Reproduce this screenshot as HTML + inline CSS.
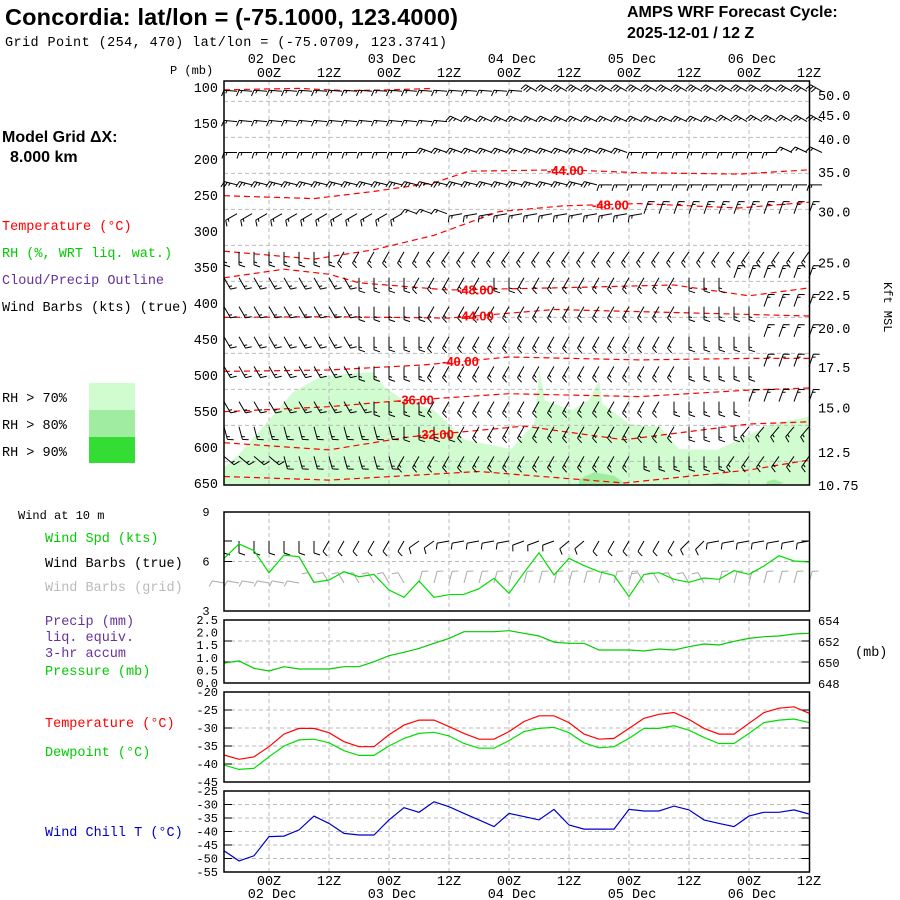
<!DOCTYPE html>
<html><head><meta charset="utf-8"><style>
html,body{margin:0;padding:0;background:#fff;}
svg{display:block;}
.m{font-family:"Liberation Mono",monospace;font-size:13.5px;}
.s{font-family:"Liberation Mono",monospace;font-size:12px;}
.b{font-family:"Liberation Sans",sans-serif;font-weight:bold;}
</style></head><body>
<svg id="chart" width="900" height="900" viewBox="0 0 900 900" xmlns="http://www.w3.org/2000/svg">
<g>
<text x="5" y="25" class="b" font-size="23.5" textLength="453">Concordia:  lat/lon = (-75.1000, 123.4000)</text>
<text x="5" y="46" class="m" font-size="14" textLength="442">Grid Point (254, 470) lat/lon = (-75.0709, 123.3741)</text>
<text x="627" y="17" class="b" font-size="16">AMPS WRF Forecast Cycle:</text>
<text x="627" y="38" class="b" font-size="16">2025-12-01 / 12  Z</text>
<text x="2" y="142" class="b" font-size="16">Model Grid ΔX:</text>
<text x="10" y="162" class="b" font-size="16">8.000 km</text>
</g>
<g class="m">
<text x="2" y="230" fill="#ff0000">Temperature (°C)</text>
<text x="2" y="257" fill="#00cc00">RH (%, WRT liq. wat.)</text>
<text x="2" y="284" fill="#663399">Cloud/Precip Outline</text>
<text x="2" y="311" fill="#000">Wind Barbs (kts) (true)</text>
<text x="2" y="402">RH &gt; 70%</text>
<text x="2" y="429">RH &gt; 80%</text>
<text x="2" y="456">RH &gt; 90%</text>
<rect x="89" y="383" width="46" height="27" fill="#d0fcd0"/>
<rect x="89" y="410" width="46" height="27" fill="#a0eca0"/>
<rect x="89" y="437" width="46" height="26" fill="#33dd33"/>
</g>
<g class="m">
<text x="18" y="519" class="s" font-size="11">Wind at 10 m</text>
<text x="45" y="542" fill="#00cc00">Wind Spd (kts)</text>
<text x="45" y="567" fill="#000">Wind Barbs (true)</text>
<text x="45" y="591" fill="#bbb">Wind Barbs (grid)</text>
<text x="45" y="625" fill="#663399">Precip (mm)</text>
<text x="45" y="641" fill="#663399">liq. equiv.</text>
<text x="45" y="657" fill="#663399">3-hr accum</text>
<text x="45" y="675" fill="#00cc00">Pressure (mb)</text>
<text x="45" y="727" fill="#ff0000">Temperature (°C)</text>
<text x="45" y="756" fill="#00cc00">Dewpoint (°C)</text>
<text x="45" y="836" fill="#0000cc">Wind Chill T (°C)</text>
<text x="855" y="656">(mb)</text>
<text x="884" y="282" transform="rotate(90 884 282)" class="s">Kft MSL</text>
<text x="170" y="74" class="s">P (mb)</text>
</g>
<g id="layer"></g>
</svg>
<script>
// ---------- data ----------
const nPts = 40; // 3-hourly, starting 01 Dec 15Z
const timeLabelsHour = ["00Z","12Z","00Z","12Z","00Z","12Z","00Z","12Z","00Z","12Z"];
const timeLabelHours = [9,21,33,45,57,69,81,93,105,117];
const dateLabels = ["02 Dec","03 Dec","04 Dec","05 Dec","06 Dec"];
const dateHours = [9,33,57,81,105];
const pTicks = [100,150,200,250,300,350,400,450,500,550,600,650];
const kftLabels = ["50.0","45.0","40.0","35.0","30.0","25.0","22.5","20.0","17.5","15.0","12.5","10.75"];
const kftPress = [111,139,172,218,273,344,389,435,489,545,607,653];

const windSpd = [6.19,7.06,6.66,5.32,6.39,6.29,4.74,4.88,5.38,5.08,5.22,4.27,3.83,4.82,3.83,3.99,4.01,4.35,4.98,4.07,5.32,6.53,5.18,6.19,5.75,5.38,5.16,3.87,5.22,5.32,4.92,4.74,5.0,4.92,5.44,5.22,5.73,6.35,6.03,5.97];
const sfcDirTrue = [180,180,180,180,180,180,180,210,210,210,210,210,210,235,235,260,260,260,260,260,250,250,250,230,230,210,210,210,210,210,210,225,225,260,260,260,260,260,260,260];
const sfcDirGrid = [280,280,280,280,280,280,330,330,330,330,330,330,330,15,15,15,15,15,15,15,15,15,15,15,15,15,15,15,330,330,330,330,330,15,15,15,15,15,15,15];
const sfcPress = [649.90,650.10,649.40,649.14,649.55,649.33,649.33,649.33,649.55,649.55,650.03,650.60,650.92,651.30,651.78,652.25,652.89,652.89,652.89,652.98,652.73,652.48,651.90,651.78,651.78,651.14,651.14,651.14,651.05,651.24,651.14,651.46,651.71,651.62,651.97,652.25,652.41,652.48,652.67,652.73];
const tempC = [-37.5,-38.7,-38.0,-35.2,-31.7,-30.1,-30.1,-31.3,-33.8,-35.2,-35.2,-31.9,-29.2,-27.8,-27.8,-29.6,-31.5,-33.1,-33.1,-31.0,-28.2,-26.6,-26.6,-28.5,-31.7,-33.1,-32.9,-30.1,-27.3,-26.2,-25.7,-27.6,-30.1,-31.7,-31.7,-28.7,-25.7,-24.5,-24.1,-25.9];
const dewC = [-40.3,-41.5,-41.2,-38.0,-35.0,-33.3,-33.1,-34.1,-36.3,-37.6,-37.6,-35.0,-32.9,-31.5,-31.2,-32.2,-34.3,-35.6,-35.6,-33.5,-31.0,-30.1,-29.8,-31.3,-34.1,-35.5,-35.2,-32.9,-30.1,-30.1,-29.4,-30.6,-32.6,-34.3,-34.3,-31.5,-28.5,-27.8,-27.5,-28.5];
const windChill = [-47.1,-50.9,-49.0,-41.9,-41.7,-39.4,-34.3,-37.0,-40.7,-41.3,-41.3,-35.7,-31.2,-32.9,-29.0,-30.8,-33.3,-35.7,-38.2,-33.3,-34.5,-35.7,-31.8,-37.6,-39.1,-39.1,-39.1,-31.8,-32.4,-32.4,-30.6,-32.0,-35.7,-37.0,-38.2,-34.3,-32.9,-32.9,-32.0,-33.5];

// upper-air barbs: levels (mb) and per-level direction/speed runs [count, value]
const barbLevels = [106,148,191,236,276,329,365,405,447,488,537,572,613];
const barbDirRuns = [
 [[20,275],[20,300]],
 [[15,275],[18,295],[7,300]],
 [[13,270],[14,290],[10,270],[3,295]],
 [[25,285],[15,270]],
 [[12,240],[3,290],[13,260],[12,20]],
 [[8,180],[6,210],[26,215]],
 [[9,150],[4,180],[5,210],[2,180],[11,210],[3,180],[6,20]],
 [[9,150],[5,180],[17,210],[5,180],[4,20]],
 [[9,150],[5,180],[17,210],[5,180],[4,20]],
 [[9,150],[5,180],[17,210],[5,180],[4,20]],
 [[10,150],[4,180],[16,210],[5,180],[5,20]],
 [[12,165],[4,180],[15,210],[4,180],[5,220]],
 [[4,130],[8,165],[16,210],[6,180],[6,215]]
];
const barbSpdRuns = [
 [[20,15],[20,30]],
 [[15,15],[25,25]],
 [[13,15],[14,25],[13,15]],
 [[25,25],[15,15]],
 [[40,15]],[[40,15]],[[40,15]],[[40,15]],[[40,15]],[[40,15]],[[40,15]],[[40,15]],[[40,15]]
];

// temperature contours: hours and pressures
const contourLabels = ["-44.00","-48.00","-48.00","-44.00","-40.00","-36.00","-32.00",""];
const contourLabelHour = [69,78,51,51,48,39,43,0];
const contourHours = [
 [0,18,30,42,49,68,83,103,117],
 [0,18,30,42,55,68,83,103,117],
 [0,12,21,27,45,66,90,105,117],
 [0,21,45,66,83,117],
 [0,21,40,57,83,105,117],
 [0,21,33,57,83,105,117],
 [0,21,37,60,80,105,117],
 [0,21,51,80,105,117]
];
const contourPress = [
 [251,255,245,233,217,215,219,221,215],
 [328,339,326,306,273,265,262,268,260],
 [365,353,360,372,382,379,375,390,379],
 [420,419,421,409,412,418],
 [495,493,486,475,479,477,477],
 [551,544,537,526,530,521,518],
 [594,604,586,571,590,568,565],
 [641,646,634,650,632,618]
];
const topContourHours = [0,6,15,24,33,42];
const topContourPress = [104,103,102,105,104,102];

// RH > 70% boundary (hours, pressure)
const rhHours = [0,3,9.2,13.8,19.1,23.7,29.8,32.1,35.9,42,48.2,57.4,62,63.1,64.2,69.6,73,75,75.7,81.1,87.2,91,98.7,109.4,117];
const rhPress = [628,610,561,524,503,499,496,517,535,549,590,603,568,493,535,549,535,507,540,568,572,603,604,568,558];
const rh80Hours = [[71,74,78,80,78,74,71],[95.5,99,104,104,99,95.5],[108.5,110,112,110,108.5]];
const rh80Press = [[645,635,640,650,660,665,658],[655,650,652,660,660,658],[648,645,650,656,652]];

// ---------- geometry ----------
const NS='http://www.w3.org/2000/svg';
const layer=document.getElementById('layer');
const X0=224, X1=809.5;
function xh(h){return X0+h*5;}
function xi(i){return xh(i*3);}
function yP(p){return 87+(p-100)*0.72;}
function mk(tag,attrs,parent){const e=document.createElementNS(NS,tag);for(const k in attrs)e.setAttribute(k,attrs[k]);(parent||layer).appendChild(e);return e;}
function expand(runs){const a=[];runs.forEach(r=>{for(let k=0;k<r[0];k++)a.push(r[1]);});return a;}

const panels=[
 {name:'upper-air-panel',y0:81,y1:485},
 {name:'wind-panel',y0:512,y1:611},
 {name:'pressure-panel',y0:620,y1:683},
 {name:'temperature-panel',y0:692,y1:782},
 {name:'windchill-panel',y0:791,y1:872}
];

// RH fill (under grid)
const rhG=mk('g',{});


{let d='M'+xh(rhHours[0])+','+485;rhHours.forEach((h,k)=>{d+=' L'+xh(h).toFixed(1)+','+yP(rhPress[k]).toFixed(1);});d+=' L'+X1+',485 Z';
 const p=mk('path',{d:d,fill:'#d0fcd0'},rhG);
 
 
 rh80Hours.forEach((hs,j)=>{let dd='';hs.forEach((h,k)=>{dd+=(k?' L':'M')+xh(h).toFixed(1)+','+Math.min(485,yP(rh80Press[j][k])).toFixed(1);});dd+=' Z';
  const q=mk('path',{d:dd,fill:'#a0eca0'},rhG);
  
  });
}

// grids
const gridG=mk('g',{stroke:'#bbb','stroke-dasharray':'4,3','stroke-width':1,fill:'none'});


panels.forEach(pn=>{timeLabelHours.slice(0,9).forEach(h=>{mk('line',{x1:xh(h),x2:xh(h),y1:pn.y0,y2:pn.y1},gridG);});});
for(let p=120;p<650;p+=50){mk('line',{x1:X0,x2:X1,y1:yP(p),y2:yP(p)},gridG);}
function hgrid(y){mk('line',{x1:X0,x2:X1,y1:y,y2:y},gridG);mk('line',{x1:X0,x2:X0+8,y1:y,y2:y,stroke:'#000'});mk('line',{x1:X1-8,x2:X1,y1:y,y2:y,stroke:'#000'});}
function yW(s){return 611-(s-3)*16.5;}
function yPr(p){return 683-(p-648)*10.5;}
function yT(t){return 692+(-20-t)*3.6;}
function yC(t){return 791+(-25-t)*2.7;}
hgrid(yW(6));
[650,652].forEach(p=>hgrid(yPr(p)));
[-25,-30,-35,-40].forEach(t=>hgrid(yT(t)));
[-30,-35,-40,-45,-50].forEach(t=>hgrid(yC(t)));
mk('line',{x1:X0,x2:X0+8,y1:541,y2:541,stroke:'#000'});mk('line',{x1:X1-8,x2:X1,y1:541,y2:541,stroke:'#000'});

// contours
const cG=mk('g',{fill:'none',stroke:'#ff0000','stroke-width':1.2,'stroke-dasharray':'6,4'});


function pathOf(hs,ps,fx,fy){return hs.map((h,k)=>(k?'L':'M')+fx(h).toFixed(1)+','+fy(ps[k]).toFixed(1)).join(' ');}
contourHours.forEach((hs,j)=>{const e=mk('path',{d:pathOf(hs,contourPress[j],xh,yP)},cG);
 
 });
{const e=mk('path',{d:pathOf(topContourHours,topContourPress,xh,yP)},cG);
 
 }

// barbs
function barb(g,x,y,dir,spd,len,col){
 const a=dir*Math.PI/180, sx=Math.sin(a), sy=-Math.cos(a);
 const tx=x+sx*len, ty=y+sy*len;
 let d='M'+x.toFixed(1)+','+y.toFixed(1)+' L'+tx.toFixed(1)+','+ty.toFixed(1);
 let fx=sy, fy=-sx;
 if(dir>0&&dir<90){fx=-sy;fy=sx;}
 let n=Math.floor(spd/10), half=(spd%10)>=5, k=0;
 for(;k<n;k++){const bx=tx-sx*3*k, by=ty-sy*3*k;d+=' M'+bx.toFixed(1)+','+by.toFixed(1)+' l'+(fx*6+sx*2).toFixed(1)+','+(fy*6+sy*2).toFixed(1);}
 if(half){const bx=tx-sx*3*k, by=ty-sy*3*k;d+=' M'+bx.toFixed(1)+','+by.toFixed(1)+' l'+(fx*3+sx*1).toFixed(1)+','+(fy*3+sy*1).toFixed(1);}
 const e=mk('path',{d:d,stroke:col,fill:'none','stroke-width':1},g);
 
 
}
const bG=mk('g',{});


barbLevels.forEach((p,r)=>{const ds=expand(barbDirRuns[r]), ss=expand(barbSpdRuns[r]);
 for(let i=0;i<nPts;i++){barb(bG,xi(i)+(ds[i]>200&&ds[i]<360&&r<5?13:0),yP(p),ds[i],ss[i],13,'#000');}});
const sG=mk('g',{});


for(let i=0;i<nPts;i++){barb(sG,xi(i),541,sfcDirTrue[i],10,12,'#000');barb(sG,xi(i),583,sfcDirGrid[i],10,12,'#aaa');}

// series lines
function series(arr,fy,col,name){const e=mk('path',{d:arr.map((v,i)=>(i?'L':'M')+xi(i).toFixed(1)+','+fy(v).toFixed(1)).join(' '),fill:'none',stroke:col,'stroke-width':1.2});
 
 }
series(windSpd,yW,'#00dd00','wind-speed-line');
series(sfcPress,yPr,'#00cc00','pressure-line');
series(tempC,yT,'#ff0000','temperature-line');
series(dewC,yT,'#00dd00','dewpoint-line');
series(windChill,yC,'#0000cc','windchill-line');

// contour labels
contourLabels.forEach((t,j)=>{if(!t)return;const hs=contourHours[j],ps=contourPress[j];const h=contourLabelHour[j];
 let k=0;while(k<hs.length-2&&hs[k+1]<h)k++;const f=(h-hs[k])/(hs[k+1]-hs[k]);const p=ps[k]+(ps[k+1]-ps[k])*f;
 const e=mk('text',{x:xh(h)-22,y:yP(p)+5,fill:'#ff0000','font-family':'Liberation Sans, sans-serif','font-weight':'bold','font-size':13});
 e.textContent=t;
 
 });

// frames
panels.forEach(pn=>{const e=mk('rect',{x:X0,y:pn.y0,width:X1-X0,height:pn.y1-pn.y0,fill:'none',stroke:'#000','stroke-width':1.5});
 
 });

// axis labels
function txt(x,y,t,anchor,name,cls){const e=mk('text',{x:x,y:y,'text-anchor':anchor||'start','class':cls||'m'});e.textContent=t;
 
 return e;}
timeLabelHours.forEach((h,k)=>{txt(xh(h),77,timeLabelsHour[k],'middle','top-time-tick');txt(xh(h),885,timeLabelsHour[k],'middle','bottom-time-tick');});
dateHours.forEach((h,k)=>{txt(xh(h)+3,63,dateLabels[k],'middle','top-date-tick');txt(xh(h)+3,898,dateLabels[k],'middle','bottom-date-tick');});
pTicks.forEach(p=>txt(218,yP(p)+5,String(p),'end','pressure-tick'));
kftLabels.forEach((t,k)=>txt(818,yP(kftPress[k])+5,t,'start','height-tick'));
const wTicks=["9","6","3"], wTickVals=[9,6,3];
wTicks.forEach((t,k)=>txt(206,yW(wTickVals[k])+4,t,'middle','wind-speed-tick','s'));
const prTicks=["2.5","2.0","1.5","1.0","0.5","0.0"], prTickVals=[2.5,2.0,1.5,1.0,0.5,0.0];
prTicks.forEach((t,k)=>txt(218,683-prTickVals[k]*25.2+4,t,'end','precip-tick','s'));
const psTicks=["654","652","650","648"], psTickVals=[654,652,650,648];
psTicks.forEach((t,k)=>txt(818,yPr(psTickVals[k])+5,t,'start','pressure-right-tick','s'));
const tTicks=["-20","-25","-30","-35","-40","-45"], tTickVals=[-20,-25,-30,-35,-40,-45];
tTicks.forEach((t,k)=>txt(218,yT(tTickVals[k])+4,t,'end','temp-tick','s'));
const cTicks=["-25","-30","-35","-40","-45","-50","-55"], cTickVals=[-25,-30,-35,-40,-45,-50,-55];
cTicks.forEach((t,k)=>txt(218,yC(cTickVals[k])+4,t,'end','windchill-tick','s'));
</script>
</body></html>
